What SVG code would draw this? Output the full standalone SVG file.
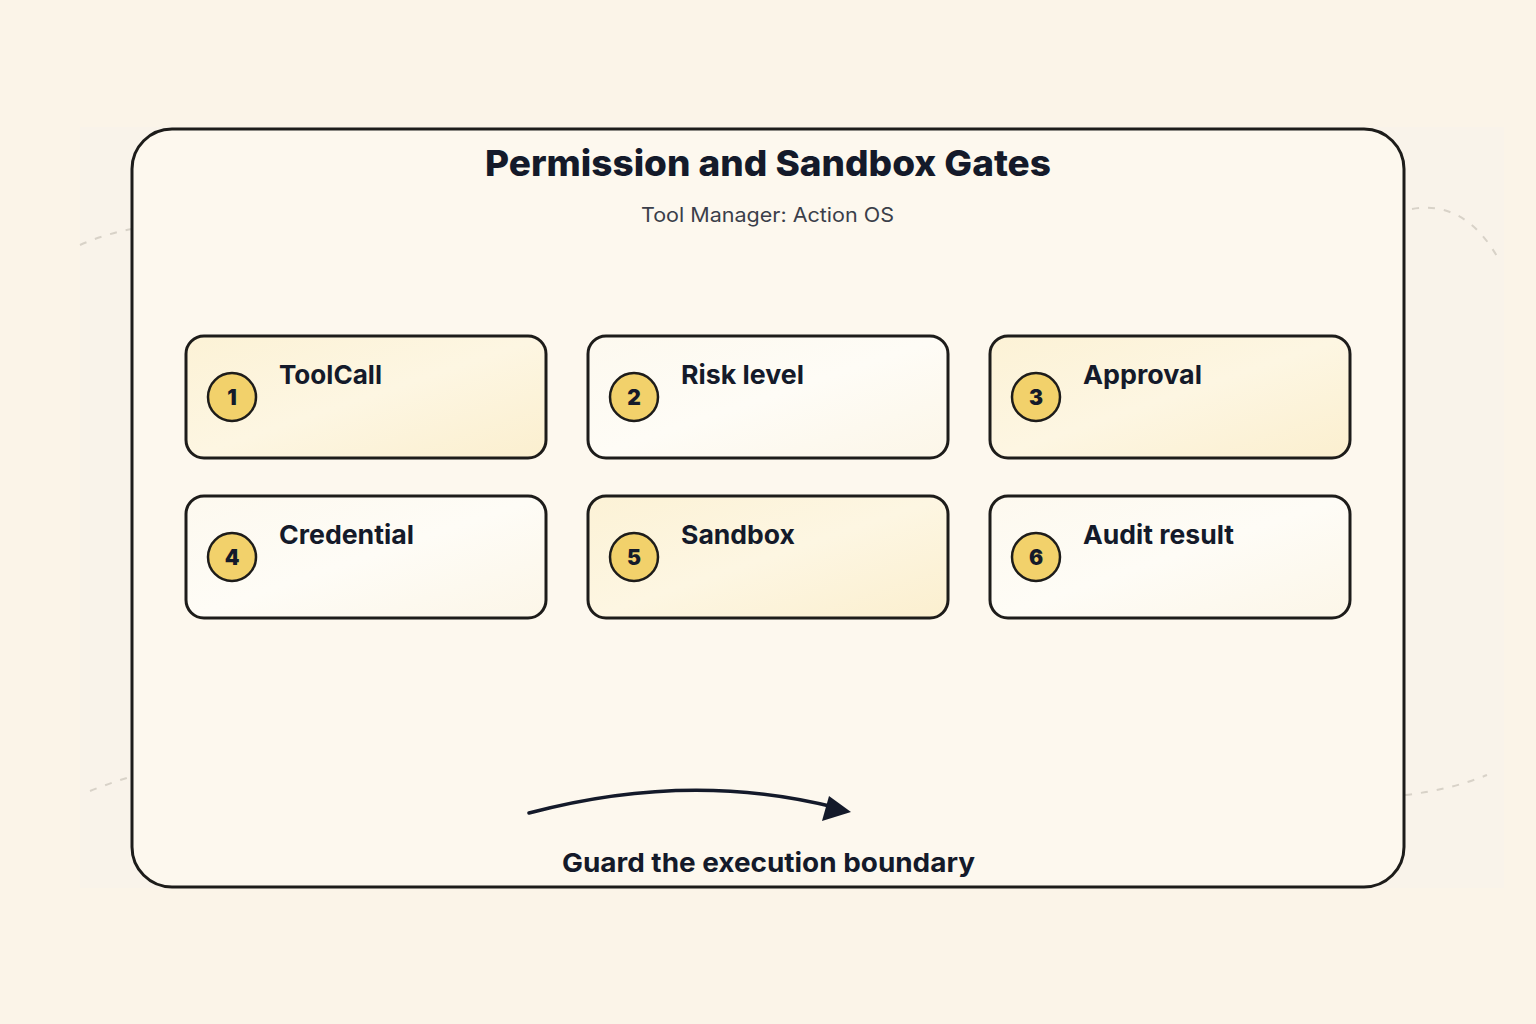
<svg xmlns="http://www.w3.org/2000/svg" width="1536" height="1024" viewBox="0 0 1536 1024">
<style>
.node{stroke:#1d1c1a;stroke-width:3}
.warm{fill:url(#gWarm)}
.plain{fill:url(#gPlain)}
.badge{fill:#F2D16B;stroke:#1d1c1a;stroke-width:2.5}
.num{font-family:Inter,"Liberation Sans",sans-serif;font-weight:900;font-size:21px;fill:#141a2a;text-anchor:middle}
.lbl{font-family:Inter,"Liberation Sans",sans-serif;font-weight:700;font-size:26px;fill:#141a2a}
.deco{fill:none;stroke:#d8d2c8;stroke-width:2;stroke-dasharray:7 9}
</style>
<defs>
<linearGradient id="gWarm" x1="0" y1="0" x2="1" y2="1">
<stop offset="0" stop-color="#FCF2D6"/><stop offset="0.5" stop-color="#FDF6E2"/><stop offset="1" stop-color="#FBEFCF"/>
</linearGradient>
<linearGradient id="gPlain" x1="0" y1="0" x2="1" y2="1">
<stop offset="0" stop-color="#FDF9EF"/><stop offset="0.5" stop-color="#FEFCF6"/><stop offset="1" stop-color="#FCF6E8"/>
</linearGradient>
</defs>
<rect width="1536" height="1024" fill="#FBF4E8"/>
<rect x="80" y="127" width="1424" height="761" fill="#F9F3EA"/>
<g id="decor">
<path class="deco" d="M80,245 Q105,234 132,229"/>
<path class="deco" d="M1412,209 Q1465,200 1498,258"/>
<path class="deco" d="M90,791 Q110,783 130,777"/>
<path class="deco" d="M1405,795 Q1450,790 1487,775"/>
</g>
<g id="panel">
<rect x="132" y="129" width="1272" height="758" rx="40" fill="#FDF8EE" stroke="#1d1c1a" stroke-width="3"/>
<text x="485" y="176" textLength="566" lengthAdjust="spacingAndGlyphs" font-family="Inter,'Liberation Sans',sans-serif" font-weight="800" font-size="36" fill="#141a2a">Permission and Sandbox Gates</text>
<text x="641" y="222" textLength="253" lengthAdjust="spacingAndGlyphs" font-family="Inter,'Liberation Sans',sans-serif" font-size="20" fill="#3b3f4a">Tool Manager: Action OS</text>
</g>
<g id="n1"><rect class="node warm" x="186" y="336" width="360" height="122" rx="18"/><circle class="badge" cx="232" cy="397" r="24"/><text class="num" x="232" y="405">1</text><text class="lbl" x="279" y="384" textLength="103" lengthAdjust="spacingAndGlyphs">ToolCall</text></g>
<g id="n2"><rect class="node plain" x="588" y="336" width="360" height="122" rx="18"/><circle class="badge" cx="634" cy="397" r="24"/><text class="num" x="634" y="405">2</text><text class="lbl" x="681" y="384" textLength="123" lengthAdjust="spacingAndGlyphs">Risk level</text></g>
<g id="n3"><rect class="node warm" x="990" y="336" width="360" height="122" rx="18"/><circle class="badge" cx="1036" cy="397" r="24"/><text class="num" x="1036" y="405">3</text><text class="lbl" x="1083" y="384" textLength="119" lengthAdjust="spacingAndGlyphs">Approval</text></g>
<g id="n4"><rect class="node plain" x="186" y="496" width="360" height="122" rx="18"/><circle class="badge" cx="232" cy="557" r="24"/><text class="num" x="232" y="565">4</text><text class="lbl" x="279" y="544" textLength="135" lengthAdjust="spacingAndGlyphs">Credential</text></g>
<g id="n5"><rect class="node warm" x="588" y="496" width="360" height="122" rx="18"/><circle class="badge" cx="634" cy="557" r="24"/><text class="num" x="634" y="565">5</text><text class="lbl" x="681" y="544" textLength="114" lengthAdjust="spacingAndGlyphs">Sandbox</text></g>
<g id="n6"><rect class="node plain" x="990" y="496" width="360" height="122" rx="18"/><circle class="badge" cx="1036" cy="557" r="24"/><text class="num" x="1036" y="565">6</text><text class="lbl" x="1083" y="544" textLength="151" lengthAdjust="spacingAndGlyphs">Audit result</text></g>
<g id="connectors">
<path d="M529,813 Q690,770 838,808" fill="none" stroke="#141a2a" stroke-width="3.5" stroke-linecap="round"/>
<path d="M851,812 L822,821 L829,796 z" fill="#141a2a"/>
</g>
<g id="footer">
<text x="562" y="872" textLength="413" lengthAdjust="spacingAndGlyphs" font-family="Inter,'Liberation Sans',sans-serif" font-weight="700" font-size="26" fill="#141a2a">Guard the execution boundary</text>
</g>
</svg>
